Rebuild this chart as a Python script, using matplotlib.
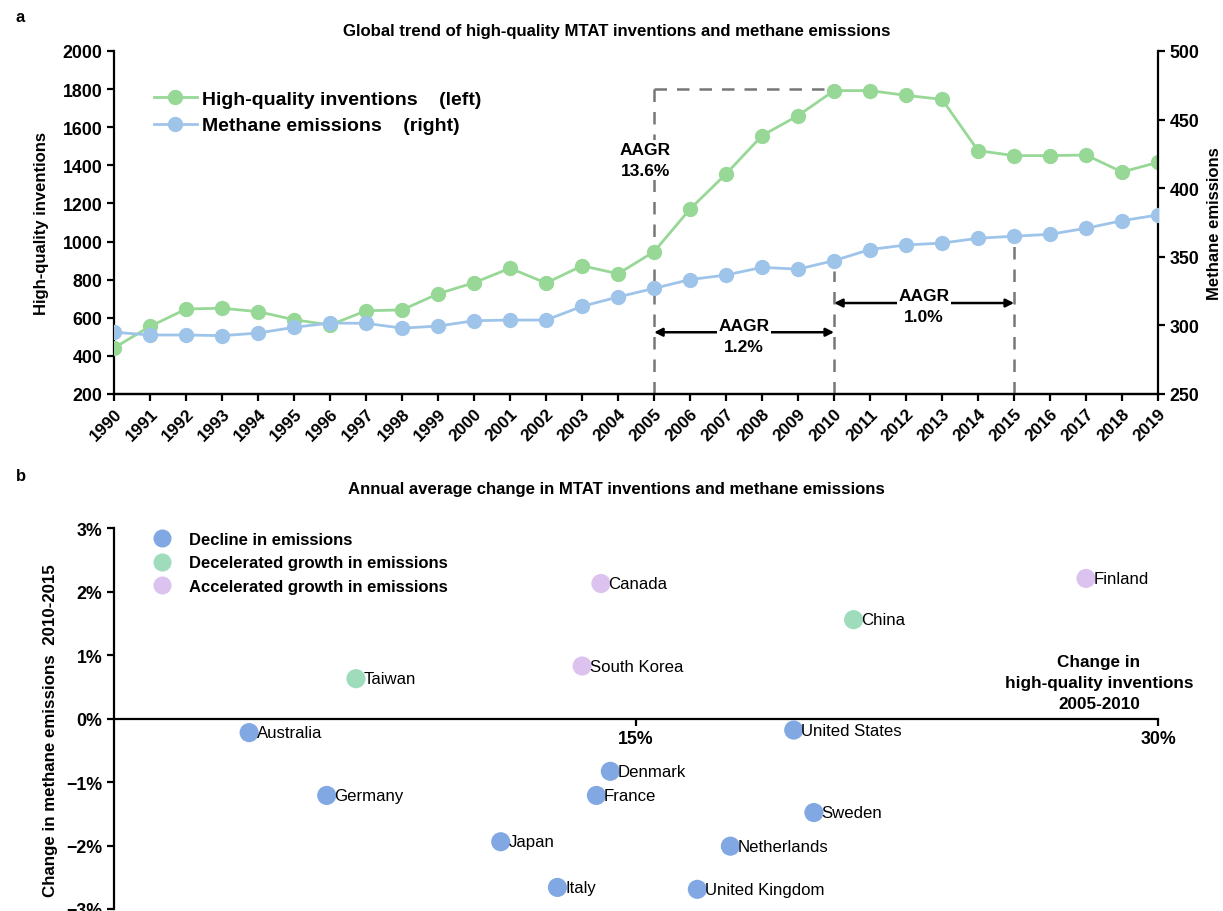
import matplotlib.pyplot as plt
from matplotlib.lines import Line2D

plt.rcParams['font.family'] = ['Liberation Sans', 'DejaVu Sans']

# panel a data
years = list(range(1990, 2020))
inventions = [442, 555, 646, 650, 632, 590, 562, 637, 641, 726,
              784, 860, 782, 873, 831, 947, 1171, 1355, 1556, 1661,
              1792, 1792, 1767, 1746, 1477, 1451, 1451, 1454, 1365, 1416]
methane = [295.0, 293.0, 293.0, 292.5, 294.4, 298.6, 301.7, 301.5, 298.0, 299.5,
           303.4, 303.9, 303.9, 313.9, 320.7, 327.0, 333.4, 336.7, 342.3, 341.0,
           347.2, 355.3, 358.6, 360.0, 363.5, 365.0, 366.4, 370.8, 376.3, 380.5]

# panel b data
countries = ['Australia', 'Germany', 'Taiwan', 'Japan', 'Italy', 'South Korea',
             'France', 'Canada', 'Denmark', 'United Kingdom', 'Netherlands',
             'United States', 'Sweden', 'China', 'Finland']
inv_change = [3.88, 6.11, 6.95, 11.11, 12.74, 13.45, 13.86, 13.99, 14.26,
              16.76, 17.71, 19.53, 20.11, 21.25, 27.93]
emi_change = [-0.22, -1.21, 0.63, -1.94, -2.66, 0.83, -1.21, 2.13, -0.83,
              -2.69, -2.01, -0.18, -1.48, 1.56, 2.21]
groups = ['decline', 'decline', 'decel', 'decline', 'decline', 'accel',
          'decline', 'accel', 'decline', 'decline', 'decline',
          'decline', 'decline', 'decel', 'accel']
group_labels = {'decline': 'Decline in emissions',
                'decel': 'Decelerated growth in emissions',
                'accel': 'Accelerated growth in emissions'}
group_colors = {'decline': '#82a8e3', 'decel': '#9fdcbc', 'accel': '#dcc3ef'}

green = '#98d897'
blue = '#9fc4ea'
dash_col = '#777777'

fig = plt.figure(figsize=(12.23, 9.12), dpi=100)

# ---------------- panel a ----------------
ax1 = fig.add_axes([0.0933, 0.5669, 0.8536, 0.3761])
ax2 = ax1.twinx()

l1, = ax1.plot(years, inventions, color=green, lw=2, marker='o', ms=10,
               zorder=5, label='High-quality inventions    (left)')
l2, = ax2.plot(years, methane, color=blue, lw=2, marker='o', ms=10,
               zorder=5, label='Methane emissions    (right)')

ax1.set_xlim(1990, 2019)
ax1.set_ylim(200, 2000)
ax1.set_yticks(range(200, 2001, 200))
ax2.set_ylim(250, 500)
ax2.set_yticks(range(250, 501, 50))
ax1.set_xticks(years)
ax1.set_xticklabels([str(y) for y in years], rotation=45, ha='right',
                    rotation_mode='anchor', fontsize=12.3, fontweight='bold')
for lab in ax1.get_yticklabels() + ax2.get_yticklabels():
    lab.set_fontweight('bold')
    lab.set_fontsize(12.8)

for ax in (ax1, ax2):
    ax.spines['top'].set_visible(False)
    for s in ax.spines.values():
        s.set_linewidth(1.6)
    ax.tick_params(width=1.6, length=5)
ax1.spines['right'].set_visible(False)
ax2.spines['left'].set_visible(False)

ax1.set_ylabel('High-quality inventions', fontsize=12, fontweight='bold', labelpad=10)
ax2.set_ylabel('Methane emissions', fontsize=12, fontweight='bold', labelpad=5)

# dashed guides
ax1.plot([2005, 2005], [200, 1800], ls=(0, (5, 4)), color=dash_col, lw=1.8, zorder=1)
ax1.plot([2005, 2010], [1800, 1800], ls=(0, (5, 4)), color=dash_col, lw=1.8, zorder=1)
ax2.plot([2010, 2010], [250, 340], ls=(0, (5, 4)), color=dash_col, lw=1.8, zorder=1)
ax2.plot([2015, 2015], [250, 358], ls=(0, (5, 4)), color=dash_col, lw=1.8, zorder=1)

ax1.text(2004.75, 1428, 'AAGR\n13.6%', ha='center', va='center', fontsize=12.5,
         fontweight='bold', linespacing=1.45, zorder=3,
         bbox=dict(facecolor='white', edgecolor='none', pad=2))

arrow_kw = dict(arrowstyle='<|-|>', color='black', lw=1.8, mutation_scale=12,
                shrinkA=0, shrinkB=0)
ax2.annotate('', xy=(2005, 295), xytext=(2010, 295), arrowprops=arrow_kw, zorder=3)
ax2.text(2007.5, 292.3, 'AAGR\n1.2%', ha='center', va='center', fontsize=12.5,
         fontweight='bold', linespacing=1.45, zorder=4,
         bbox=dict(facecolor='white', edgecolor='none', pad=1))
ax2.annotate('', xy=(2010, 316.3), xytext=(2015, 316.3), arrowprops=arrow_kw, zorder=3)
ax2.text(2012.5, 314.2, 'AAGR\n1.0%', ha='center', va='center', fontsize=12.5,
         fontweight='bold', linespacing=1.45, zorder=4,
         bbox=dict(facecolor='white', edgecolor='none', pad=1))

ax2.legend(handles=[l1, l2], loc='upper left', bbox_to_anchor=(0.038, 0.885),
           borderaxespad=0, borderpad=0, frameon=False, handlelength=2.2,
           handletextpad=0.3, labelspacing=0.45,
           prop={'size': 14, 'weight': 'bold'})

fig.text(0.013, 0.981, 'a', fontsize=12, fontweight='bold', va='center')
fig.text(0.504, 0.966, 'Global trend of high-quality MTAT inventions and methane emissions',
         ha='center', va='center', fontsize=12.1, fontweight='bold')

# ---------------- panel b ----------------
ax3 = fig.add_axes([0.0933, 0.0022, 0.8536, 0.4174])
for g in ['decline', 'decel', 'accel']:
    xs = [x for x, gg in zip(inv_change, groups) if gg == g]
    ys = [y for y, gg in zip(emi_change, groups) if gg == g]
    ax3.scatter(xs, ys, s=190, color=group_colors[g], edgecolors='none',
                zorder=3, clip_on=False)
for name, x, y in zip(countries, inv_change, emi_change):
    ax3.annotate(name, (x, y), xytext=(5.5, 0), textcoords='offset points',
                 ha='left', va='center', fontsize=12.1)

ax3.set_xlim(0, 30)
ax3.set_ylim(-3, 3)
ax3.spines['top'].set_visible(False)
ax3.spines['right'].set_visible(False)
ax3.spines['bottom'].set_position(('data', 0))
for s in ax3.spines.values():
    s.set_linewidth(1.6)
ax3.tick_params(width=1.6, length=5)
ax3.set_xticks([15, 30])
ax3.set_xticklabels(['15%', '30%'], fontsize=12.8, fontweight='bold')
yt = [-3, -2, -1, 0, 1, 2, 3]
ax3.set_yticks(yt)
ax3.set_yticklabels([f'{v}%'.replace('-', '\u2212') for v in yt],
                    fontsize=12.8, fontweight='bold')
ax3.set_ylabel('Change in methane emissions  2010-2015', fontsize=12.2,
               fontweight='bold', labelpad=6)
ax3.yaxis.label.set_y(0.47)

ax3.text(28.3, 0.57, 'Change in\nhigh-quality inventions\n2005-2010', ha='center',
         va='center', fontsize=12.3, fontweight='bold', linespacing=1.5)

handles = [Line2D([], [], ls='none', marker='o', ms=13, mec='none',
                  color=group_colors[g], label=group_labels[g])
           for g in ['decline', 'decel', 'accel']]
ax3.legend(handles=handles, loc='upper left', bbox_to_anchor=(0.030, 0.99),
           borderaxespad=0, borderpad=0, frameon=False, handletextpad=0.6,
           labelspacing=0.5, prop={'size': 12, 'weight': 'bold'})

fig.text(0.013, 0.478, 'b', fontsize=12, fontweight='bold', va='center')
fig.text(0.504, 0.463, 'Annual average change in MTAT inventions and methane emissions',
         ha='center', va='center', fontsize=12.1, fontweight='bold')

fig.savefig('out.png', dpi=100)
